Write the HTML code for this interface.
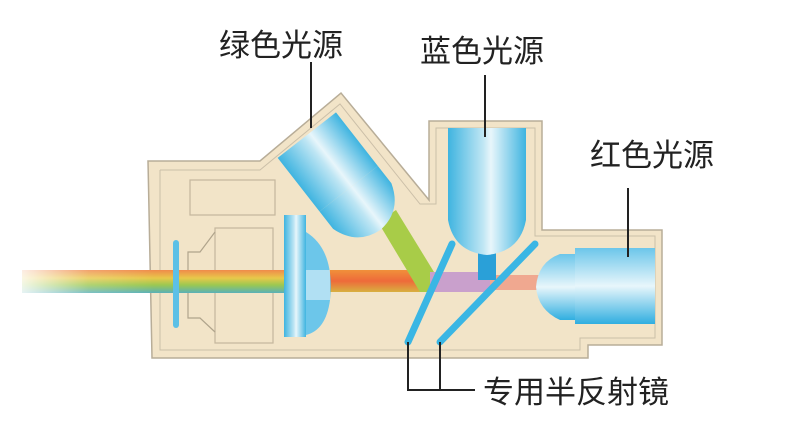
<!DOCTYPE html>
<html><head><meta charset="utf-8"><style>
html,body{margin:0;padding:0;background:#fff;width:800px;height:437px;overflow:hidden}
svg{display:block}
text{font-family:"Liberation Sans","Noto Sans CJK SC",sans-serif;font-size:31px;fill:#222}
</style></head><body>
<svg width="800" height="437" viewBox="0 0 800 437" xmlns="http://www.w3.org/2000/svg">
<defs>
<linearGradient id="rb" x1="0" y1="0" x2="0" y2="1">
<stop offset="0" stop-color="#f08a4a"/><stop offset="0.35" stop-color="#e8c84a"/><stop offset="0.65" stop-color="#9cc850"/><stop offset="1" stop-color="#5ab0b8"/></linearGradient>
<linearGradient id="fade" x1="0" y1="0" x2="1" y2="0">
<stop offset="0" stop-color="#fff" stop-opacity="0.85"/><stop offset="0.25" stop-color="#fff" stop-opacity="0.2"/><stop offset="0.5" stop-color="#fff" stop-opacity="0"/></linearGradient>
<linearGradient id="red" x1="0" y1="0" x2="0" y2="1">
<stop offset="0" stop-color="#f0903a"/><stop offset="0.5" stop-color="#ee6a3a"/><stop offset="1" stop-color="#d8b040"/></linearGradient>
<linearGradient id="lensv" x1="0" y1="0" x2="1" y2="0">
<stop offset="0" stop-color="#3fb4e0"/><stop offset="0.45" stop-color="#bfe6f4"/><stop offset="0.55" stop-color="#e8f6fb"/><stop offset="1" stop-color="#3fb4e0"/></linearGradient>
<linearGradient id="lensh" x1="0" y1="0" x2="0" y2="1">
<stop offset="0" stop-color="#6cc6ea"/><stop offset="0.5" stop-color="#e8f6fb"/><stop offset="1" stop-color="#30aee0"/></linearGradient>
</defs>
<polygon points="148,161 260,161 341,93 429,200 429,121 542,121 542,230 662,230 662,345 588,345 588,358 152,358" fill="#f2e4c8" stroke="#b8ad98" stroke-width="1.5"/>
<polyline points="160,170 260,170 340,104 420,204 436,204 436,128 535,128 535,236 655,236 655,338 580,338 580,350 160,350 160,170" fill="none" stroke="#cbbfa8" stroke-width="1"/>
<rect x="190" y="180" width="85" height="35" fill="none" stroke="#c4b69c" stroke-width="1.2"/>
<rect x="215" y="228" width="58" height="115" fill="none" stroke="#c4b69c" stroke-width="1.2"/>
<polyline points="215,232 200,252 188,252 188,318 200,318 215,332" fill="none" stroke="#b0a48c" stroke-width="1.2"/>
<rect x="22" y="270" width="266" height="23" fill="url(#rb)"/>
<rect x="22" y="270" width="266" height="23" fill="url(#fade)"/>
<rect x="285" y="270" width="145" height="22" fill="url(#red)"/>
<polygon points="378,222 396,210 434,272 430,292 420,292" fill="#a8cc48"/>
<rect x="430" y="272" width="60" height="20" fill="#c9a0cc"/>
<rect x="490" y="275" width="50" height="15" fill="#f0a890"/>
<rect x="478" y="250" width="18" height="30" fill="#2aa0d8"/>
<rect x="173" y="240" width="6" height="88" rx="3" fill="#5cc0e6"/>
<rect x="284" y="215" width="22" height="122" fill="url(#lensv)"/>
<path d="M306,232 Q335,250 330,300 Q326,330 306,335 Z" fill="#6cc6ea"/>
<path d="M306,270 L330,270 L330,300 L306,300Z" fill="#e0f2f8" opacity="0.6"/>
<g transform="translate(345,184) rotate(-38)">
<rect x="-37" y="-62" width="74" height="68" fill="url(#lensv)"/>
<path d="M-37,6 L37,6 L37,28 Q28,56 0,58 Q-28,56 -37,28 Z" fill="url(#lensv)"/>
</g>
<rect x="448" y="128" width="78" height="72" fill="url(#lensv)"/>
<path d="M448,200 L526,200 L526,220 Q520,252 487,255 Q454,252 448,220Z" fill="url(#lensv)"/>
<rect x="575" y="248" width="80" height="76" fill="url(#lensh)"/>
<path d="M575,254 L575,320 L560,320 Q538,310 536,287 Q538,262 560,254Z" fill="url(#lensh)"/>
<line x1="452" y1="244" x2="408" y2="342" stroke="#3ab6e4" stroke-width="7" stroke-linecap="round"/>
<line x1="535" y1="244" x2="440" y2="342" stroke="#3ab6e4" stroke-width="7" stroke-linecap="round"/>
<g stroke="#222" stroke-width="2" fill="none">
<line x1="311" y1="62" x2="311" y2="128"/>
<line x1="485" y1="75" x2="485" y2="137"/>
<line x1="628" y1="188" x2="628" y2="257"/>
<polyline points="408,342 408,390 475,390"/>
<line x1="440" y1="342" x2="440" y2="390"/>
</g>
<text x="219" y="56">绿色光源</text>
<text x="420" y="62">蓝色光源</text>
<text x="590" y="166">红色光源</text>
<text x="483" y="403">专用半反射镜</text>
</svg>
</body></html>
